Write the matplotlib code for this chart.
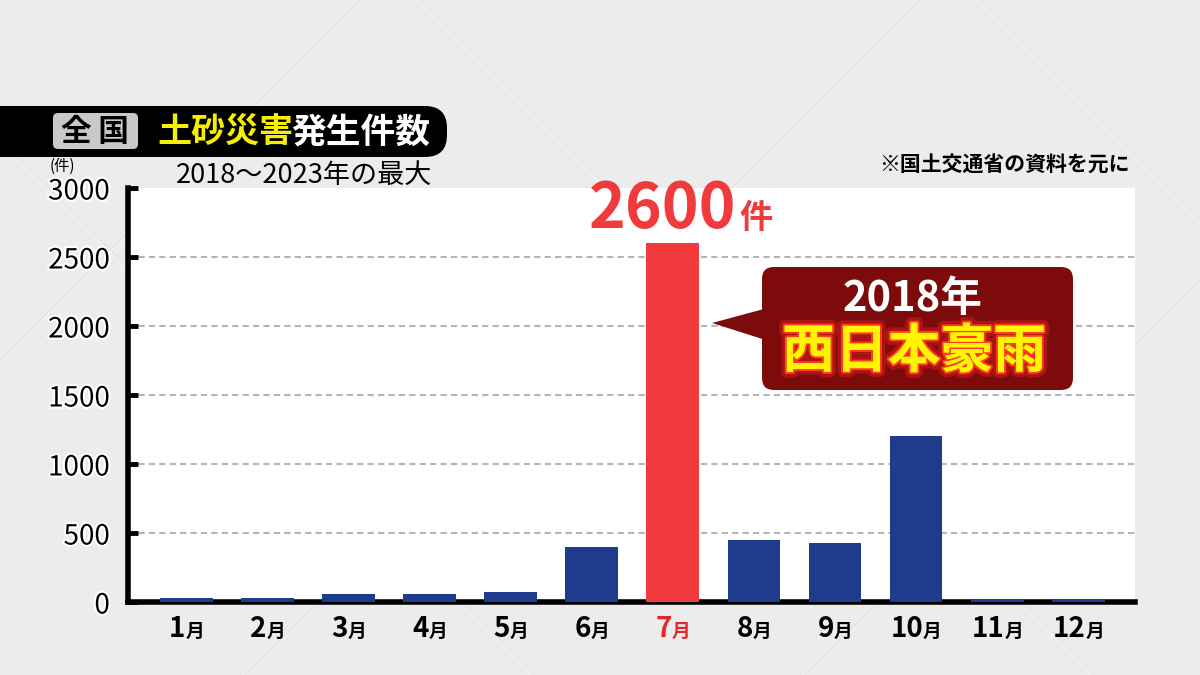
import numpy as np
import matplotlib.pyplot as plt
import matplotlib.patheffects as pe
from matplotlib.patches import FancyBboxPatch, Polygon

plt.rcParams['font.family'] = ['Noto Sans CJK JP', 'DejaVu Sans']

# data
month_nums = ['1', '2', '3', '4', '5', '6', '7', '8', '9', '10', '11', '12']
counts = [30, 30, 55, 55, 75, 400, 2600, 450, 430, 1200, 25, 25]
highlight = 6  # 7月
y_ticks = [0, 500, 1000, 1500, 2000, 2500, 3000]

blue = '#1f3c8c'
red = '#f03a3b'

fig = plt.figure(figsize=(12, 6.75), dpi=100)
fig.patch.set_facecolor('#ececec')

# background layer in pixel coords (faint diamond tile texture)
bg = fig.add_axes([0, 0, 1, 1], zorder=0)
bg.set_xlim(0, 1200)
bg.set_ylim(675, 0)
bg.axis('off')
for c in range(-700, 1900, 560):
    xs = np.array([-100, 1300])
    bg.plot(xs, xs - c, color='#dcdcdc', lw=1, alpha=0.6)
    bg.plot(xs, -xs + c + 500, color='#dcdcdc', lw=1, alpha=0.6)
    bg.plot(xs, xs - c + 2, color='#f7f7f7', lw=1, alpha=0.6)
    bg.plot(xs, -xs + c + 502, color='#f7f7f7', lw=1, alpha=0.6)

# main chart
ax = fig.add_axes([128 / 1200, 1 - 602 / 675, (1135 - 128) / 1200, (602 - 188) / 675], zorder=1)
ax.set_facecolor('white')
x = np.arange(len(counts))
colors = [red if i == highlight else blue for i in range(len(counts))]
ax.bar(x, counts, width=0.65, color=colors, zorder=3)

for v in y_ticks[1:-1]:
    ax.axhline(v, color='#b5b5b5', lw=1.5, ls=(0, (3, 2)), zorder=1)

ax.set_xlim(-0.72, 11.7)
ax.set_ylim(0, 3000)
ax.set_yticks(y_ticks)
ax.set_yticklabels([str(v) for v in y_ticks], fontsize=20,
                   path_effects=[pe.withStroke(linewidth=3, foreground='white')])
ax.tick_params(axis='y', direction='in', length=7, width=3.5, pad=13, colors='black')
ax.set_xticks([])
for s in ['top', 'right']:
    ax.spines[s].set_visible(False)
for s in ['left', 'bottom']:
    ax.spines[s].set_linewidth(4)
    ax.spines[s].set_color('black')
    ax.spines[s].set_capstyle('projecting')

# month labels: big number + smaller 月
for i, n in enumerate(month_nums):
    col = '#e8262a' if i == highlight else 'black'
    off = (8 * len(n) - 9) * 0.72
    ax.annotate(n, (i, 0), xytext=(off, -25), textcoords='offset points',
                ha='right', va='baseline', fontsize=20, fontweight='bold', color=col,
                annotation_clip=False)
    ax.annotate('月', (i, 0), xytext=(off, -25), textcoords='offset points',
                ha='left', va='baseline', fontsize=13.5, fontweight='bold', color=col,
                annotation_clip=False)

# value label above the 7月 bar
ax.annotate('2600', (highlight, counts[highlight]), xytext=(46, 11), textcoords='offset points',
            ha='right', va='baseline', fontsize=45, fontweight='bold', color=red,
            annotation_clip=False)
ax.annotate('件', (highlight, counts[highlight]), xytext=(48, 11), textcoords='offset points',
            ha='left', va='baseline', fontsize=24, fontweight='bold', color=red,
            annotation_clip=False)

# overlay for banner and callout (pixel coords)
ov = fig.add_axes([0, 0, 1, 1], zorder=5)
ov.set_xlim(0, 1200)
ov.set_ylim(675, 0)
ov.axis('off')
ov.patch.set_alpha(0)

ov.add_patch(FancyBboxPatch((-30, 106), 477, 51, boxstyle='round,pad=0,rounding_size=22',
                            facecolor='black', edgecolor='none'))
ov.add_patch(FancyBboxPatch((53, 113), 85, 36, boxstyle='round,pad=0,rounding_size=5',
                            facecolor='#c9c9c9', edgecolor='none'))
ov.text(95, 132, '全 国', ha='center', va='center', fontsize=22, fontweight='bold', color='black')
ov.text(157, 132, '土砂災害', ha='left', va='center', fontsize=24.5, fontweight='bold', color='#f6f000')
ov.text(291, 132, '発生件数', ha='left', va='center', fontsize=25, fontweight='bold', color='white')

ov.text(304, 175, '2018〜2023年の最大', ha='center', va='center', fontsize=19.5, color='black')
ov.text(62, 166, '(件)', ha='center', va='center', fontsize=11, color='black')
ov.text(1004, 165, '※国土交通省の資料を元に', ha='center', va='center', fontsize=15,
        fontweight='bold', color='black')

# callout
box_col = '#7e0b0c'
ov.add_patch(Polygon([(712, 323), (775, 306), (775, 343)], closed=True,
                     facecolor=box_col, edgecolor='none'))
ov.add_patch(FancyBboxPatch((762, 267), 311, 123, boxstyle='round,pad=0,rounding_size=12',
                            facecolor=box_col, edgecolor='none'))
ov.text(913, 299, '2018年', ha='center', va='center', fontsize=30, fontweight='bold', color='white')
ov.text(914, 352, '西日本豪雨', ha='center', va='center', fontsize=38, fontweight='bold',
        color='#fff500',
        path_effects=[pe.withStroke(linewidth=8, foreground='#e0201a', alpha=0.45),
                      pe.withStroke(linewidth=3, foreground='#ff3a20'), pe.Normal()])

fig.savefig('out.png', dpi=100, facecolor=fig.get_facecolor())
